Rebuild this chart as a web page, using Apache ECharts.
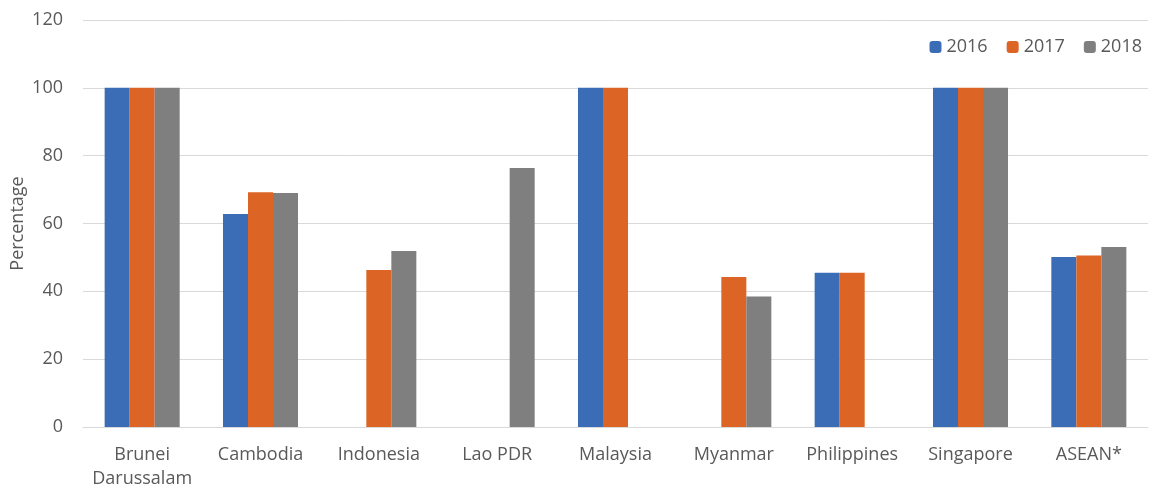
<!DOCTYPE html>
<html><head><meta charset="utf-8">
<script src="https://cdn.jsdelivr.net/npm/echarts@6/dist/echarts.min.js"></script>
<style>html,body{margin:0;padding:0;background:#fff}#c{width:1150px;height:486px}</style>
</head><body><div id="c"></div>
<script>
const categories = ['Brunei\nDarussalam','Cambodia','Indonesia','Lao PDR','Malaysia','Myanmar','Philippines','Singapore','ASEAN*'];
const s2016 = [100, 62.8, null, null, 100, null, 45.5, 100, 50.1];
const s2017 = [100, 69.2, 46.3, null, 100, 44.2, 45.5, 100, 50.6];
const s2018 = [100, 69.0, 51.9, 76.4, null, 38.5, null, 100, 53.1];
const yTicks = [0, 20, 40, 60, 80, 100, 120];

const chart = echarts.init(document.getElementById('c'));
const font = '"Open Sans", "Noto Sans", sans-serif';
chart.setOption({
  animation: false,
  textStyle: {fontFamily: font},
  legend: {
    right: 3, top: 33, itemWidth: 12, itemHeight: 12, itemGap: 19,
    textStyle: {fontSize: 18, color: '#595959', fontFamily: font},
    data: ['2016','2017','2018']
  },
  grid: {left: 83, right: 2, top: 20, bottom: 59, containLabel: false, outerBoundsMode: 'none'},
  xAxis: {
    type: 'category', data: categories,
    axisLine: {lineStyle: {color: '#d9d9d9'}},
    axisTick: {show: false},
    axisLabel: {fontSize: 18, color: '#595959', lineHeight: 24, margin: 16, interval: 0, fontFamily: font}
  },
  yAxis: {
    type: 'value', min: yTicks[0], max: yTicks[yTicks.length-1], interval: 20,
    name: 'Percentage', nameLocation: 'middle', nameGap: 56, nameMoveOverlap: false,
    nameTextStyle: {fontSize: 18, color: '#595959', fontFamily: font},
    axisLabel: {fontSize: 18, color: '#595959', margin: 20, fontFamily: font},
    splitLine: {lineStyle: {color: '#d9d9d9'}},
    axisLine: {show: false}, axisTick: {show: false}
  },
  series: [
    {name: '2016', type: 'bar', data: s2016, itemStyle: {color: '#3B6DB6'}, barGap: '0%', barCategoryGap: '36.6%'},
    {name: '2017', type: 'bar', data: s2017, itemStyle: {color: '#DC6425'}},
    {name: '2018', type: 'bar', data: s2018, itemStyle: {color: '#7F7F7F'}}
  ]
});
</script></body></html>
